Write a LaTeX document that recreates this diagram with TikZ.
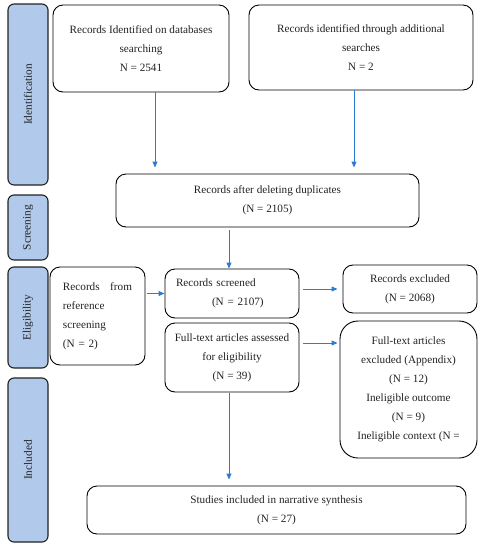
\documentclass[tikz,border=0pt]{standalone}
\usepackage{fontspec}
\setmainfont{Liberation Serif}
\usepackage{tikz}
\usetikzlibrary{arrows.meta}
\usetikzlibrary{positioning}

\definecolor{barblue}{HTML}{B1C9EA}
\definecolor{arrowblue}{HTML}{2E7BD3}
\definecolor{inkgray}{HTML}{222222}

\tikzset{
  phase/.style={draw=inkgray, line width=1.1pt, fill=barblue, rounded corners=6pt,
                minimum width=40pt, inner sep=0pt, text=inkgray,
                font=\fontsize{11.3}{12}\selectfont},
  phaselabel/.style={rotate=90, text=inkgray, font=\fontsize{11.3}{12}\selectfont},
  recbox/.style={draw=black, line width=0.9pt, rounded corners=10pt, inner sep=0pt,
                 align=center, text=inkgray, font=\fontsize{11.2}{19}\selectfont},
  flow/.style={draw=arrowblue, line width=0.9pt,
               -{Triangle[length=6pt,width=5pt]}},
}

\begin{document}
\begin{tikzpicture}[x=1pt, y=-1pt]
\useasboundingbox (0,0) rectangle (485,550);

% phases
\node[phase, minimum height=181pt] (idbar) at (28, 94.5) {};
\node[phaselabel] at (idbar) {Identification};
\node[phase, minimum height=65pt] (scrbar) at (28, 227.5) {};
\node[phaselabel] at (scrbar) {Screening};
\node[phase, minimum height=101pt] (elibar) at (28, 317.5) {};
\node[phaselabel] at (elibar) {Eligibility};
\node[phase, minimum height=164pt] (incbar) at (28, 460) {};
\node[phaselabel] at (incbar) {Included};

% records
\node[recbox, minimum width=176pt, minimum height=87pt] (db) at (141, 48.5)
  {Records Identified on databases\\searching\\N = 2541};
\node[recbox, minimum width=224pt, minimum height=85pt] (add) at (361, 47.5)
  {Records identified through additional\\searches\\N = 2};
\node[recbox, minimum width=303pt, minimum height=53pt] (dup) at (267.5, 200.5)
  {Records after deleting duplicates\\(N = 2105)};
\node[recbox, minimum width=95pt, minimum height=98pt, text width=69pt,
      inner xsep=13pt, align=left] (ref) at (97.5, 316)
  {\hbox to 69pt{Records\hfill from}\\reference\\screening\\(N = 2)};
\node[recbox, minimum width=134pt, minimum height=49pt, text width=112pt,
      inner xsep=11pt, align=left] (scr) at (232, 293.5)
  {Records screened\\\hspace*{36pt}(N = 2107)};
\node[recbox, minimum width=134pt, minimum height=48pt] (excl) at (410, 289)
  {Records excluded\\(N = 2068)};
\node[recbox, minimum width=134pt, minimum height=69pt] (full) at (232, 357.5)
  {Full-text articles assessed\\for eligibility\\(N = 39)};
\node[recbox, rounded corners=18pt, minimum width=137pt, minimum height=137pt]
  (fullexcl) at (408.5, 389.5)
  {Full-text articles\\excluded (Appendix)\\(N = 12)\\Ineligible outcome\\(N = 9)\\Ineligible context (N =};
\node[recbox, minimum width=379pt, minimum height=48pt] (studies) at (276.5, 510)
  {Studies included in narrative synthesis\\(N = 27)};

% connectors
\coordinate (dbx) at (155, 0);
\coordinate (addx) at (354, 0);
\coordinate (fullx) at (229, 0);
\coordinate (fully) at (0, 343);

\draw[flow, shorten >=6pt] (db.south -| dbx) -- (dup.north -| dbx);
\draw[flow, shorten >=6pt] (add.south -| addx) -- (dup.north -| addx);
\draw[flow, shorten <=3pt] (dup.south -| fullx) -- (scr.north -| fullx);
\draw[flow, shorten <=2pt] (ref.east |- scr) -- (scr.west);
\draw[flow, shorten <=4pt, shorten >=5pt] (scr.east |- excl) -- (excl.west);
\draw[flow, shorten <=4pt, shorten >=2pt] (full.east |- fully) -- (fullexcl.west |- fully);
\draw[flow, shorten <=1pt, shorten >=6pt] (full.south -| fullx) -- (studies.north -| fullx);
\end{tikzpicture}
\end{document}
